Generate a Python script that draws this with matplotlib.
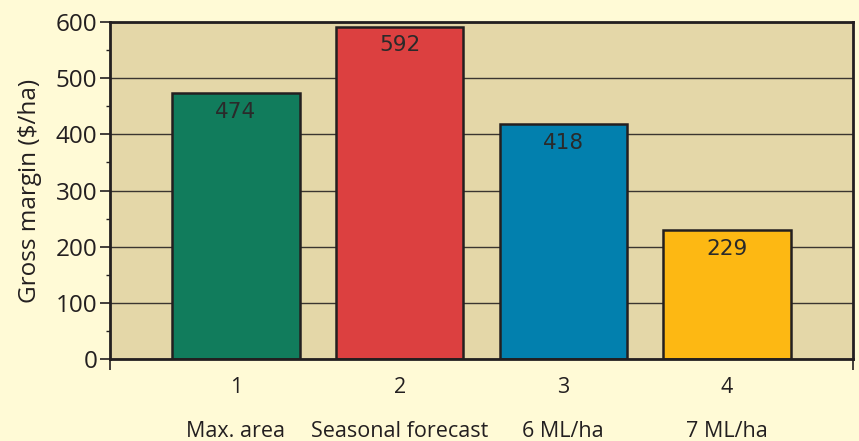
import numpy as np
import matplotlib
matplotlib.use("Agg")
import matplotlib.pyplot as plt
from matplotlib.ticker import MultipleLocator, FixedLocator

# data
options = [1, 2, 3, 4]
option_names = ["Max. area", "Seasonal forecast", "6 ML/ha", "7 ML/ha"]
gross_margin = [474, 592, 418, 229]
bar_colours = ["#117c5c", "#dc4040", "#0280ae", "#fdb813"]

plt.rcParams['font.family'] = ['Open Sans', 'DejaVu Sans']
text_col = "#231f20"

fig = plt.figure(figsize=(8.59, 4.41), dpi=100)
fig.patch.set_facecolor("#fffad6")
ax = fig.add_axes([0.128, 0.186, 0.865, 0.764])
ax.set_facecolor("#e4d7a8")

ax.bar(options, gross_margin, width=0.777, color=bar_colours,
       edgecolor="#231f20", linewidth=1.8, zorder=3)

for x, v in zip(options, gross_margin):
    ax.annotate(str(v), xy=(x, v), xytext=(0, -13.5), textcoords="offset points",
                ha="center", va="center", fontsize=15.5, color="#2a2a2a",
                family=['DejaVu Sans'], zorder=4)

ax.set_xlim(0.23, 4.77)
ax.set_ylim(0, 600)

ax.yaxis.set_major_locator(MultipleLocator(100))
ax.yaxis.set_minor_locator(MultipleLocator(50))
ax.grid(axis="y", color="#3a3530", linewidth=1.0, zorder=1)
ax.set_axisbelow(True)

ax.set_xticks(options)
ax.set_xticklabels([str(o) for o in options])
ax.xaxis.set_minor_locator(FixedLocator([0.23, 4.77]))
ax.tick_params(axis="x", which="major", length=0, pad=13, labelsize=15.5, colors=text_col)
ax.tick_params(axis="x", which="minor", length=8, width=1.2, color=text_col)
ax.tick_params(axis="y", which="major", length=7, width=1.2, labelsize=17.5,
               colors=text_col, pad=2)
ax.tick_params(axis="y", which="minor", length=3, width=1.0, color=text_col)

for name, x in zip(option_names, options):
    ax.annotate(name, xy=(x, -0.215), xycoords=("data", "axes fraction"),
                ha="center", va="center", fontsize=15.5, color=text_col)

ax.set_ylabel("Gross margin ($/ha)", fontsize=17.5, color=text_col, labelpad=10)

for s in ax.spines.values():
    s.set_linewidth(2.0)
    s.set_color(text_col)
    s.set_zorder(5)

fig.savefig("out.png", dpi=100, facecolor=fig.get_facecolor())
